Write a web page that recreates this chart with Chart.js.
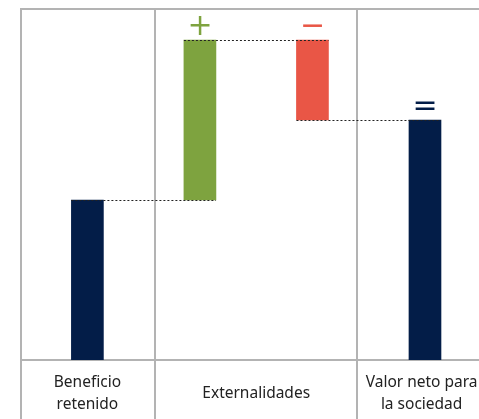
<!DOCTYPE html>
<html lang="es">
<head>
<meta charset="utf-8">
<title>Valor neto para la sociedad</title>
<script src="https://cdn.jsdelivr.net/npm/chart.js@4/dist/chart.umd.min.js"></script>
<style>
  html, body { margin: 0; padding: 0; background: #fff; overflow: hidden; }
  #wrap { width: 479px; height: 419px; }
</style>
</head>
<body>
<div id="wrap"><canvas id="cascada"></canvas></div>
<script>
// ===============================
// Datos
// ===============================
const categorias = ['Beneficio retenido', 'Externalidades positivas', 'Externalidades negativas', 'Valor neto para la sociedad'];
const variaciones = [100, 100, -50, 150];   // el último es el total
const simbolos = ['', '+', '\u2212', '='];
const colores = ['#031d48', '#7ea33f', '#e95646', '#031d48'];
const etiquetasEje = [['Beneficio', 'retenido'], 'Externalidades', ['Valor neto para', 'la sociedad']];
const posEtiquetas = [0, 1.5, 2.97];
const divisiones = [0.6, 2.4];

// ===============================
// Construir barras flotantes (cascada)
// ===============================
let acumulado = 0;
const tramos = variaciones.map(function (v, i) {
  if (i === variaciones.length - 1) {
    return [0, v];
  }
  const inicio = acumulado;
  acumulado += v;
  return [Math.min(inicio, acumulado), Math.max(inicio, acumulado)];
});
// nivel al que se une cada barra con la siguiente
const niveles = [];
acumulado = 0;
for (let i = 0; i < variaciones.length - 1; i++) {
  acumulado += variaciones[i];
  niveles.push(acumulado);
}

const COLOR_MARCO = '#b3b3b3';

// ===============================
// Plugin: marco de la tabla, conectores y símbolos
// ===============================
const marcoPlugin = {
  id: 'marco',
  beforeDatasetsDraw(chart) {
    const { ctx, chartArea, scales } = chart;
    const x = scales.x;
    const h = chart.height;
    ctx.save();
    ctx.strokeStyle = COLOR_MARCO;
    ctx.lineWidth = 2;
    ctx.beginPath();
    // línea superior
    ctx.moveTo(chartArea.left - 1, chartArea.top);
    ctx.lineTo(chart.width, chartArea.top);
    // línea base
    ctx.moveTo(chartArea.left, chartArea.bottom);
    ctx.lineTo(chart.width, chartArea.bottom);
    // borde izquierdo
    ctx.moveTo(chartArea.left, chartArea.top);
    ctx.lineTo(chartArea.left, h);
    // divisiones entre columnas
    divisiones.forEach(function (d) {
      const px = Math.round(x.getPixelForValue(d));
      ctx.moveTo(px, chartArea.top);
      ctx.lineTo(px, h);
    });
    ctx.stroke();
    ctx.restore();
  },
  afterDatasetsDraw(chart) {
    const { ctx, scales } = chart;
    const meta = chart.getDatasetMeta(0);
    const y = scales.y;
    ctx.save();

    // conectores punteados
    ctx.strokeStyle = '#222';
    ctx.lineWidth = 1;
    ctx.setLineDash([2, 2]);
    niveles.forEach(function (nivel, i) {
      const a = meta.data[i];
      const b = meta.data[i + 1];
      const py = Math.round(y.getPixelForValue(nivel)) + 0.5;
      ctx.beginPath();
      ctx.moveTo(a.x - a.width / 2, py);
      ctx.lineTo(b.x + b.width / 2, py);
      ctx.stroke();
    });
    ctx.setLineDash([]);

    // símbolos +, −, =
    ctx.font = '30px "DejaVu Sans"';
    ctx.textAlign = 'left';
    ctx.textBaseline = 'alphabetic';
    simbolos.forEach(function (s, i) {
      if (!s) return;
      const bar = meta.data[i];
      const m = ctx.measureText(s);
      const ancho = m.actualBoundingBoxLeft + m.actualBoundingBoxRight;
      const alto = m.actualBoundingBoxAscent + m.actualBoundingBoxDescent;
      const cx = bar.x;
      const cy = Math.min(bar.y, bar.base) - 15;
      ctx.fillStyle = colores[i];
      ctx.fillText(s, cx - ancho / 2 + m.actualBoundingBoxLeft, cy - alto / 2 + m.actualBoundingBoxAscent);
    });
    ctx.restore();
  }
};

// ===============================
// Gráfico
// ===============================
document.addEventListener('DOMContentLoaded', function () {
  const ctx = document.getElementById('cascada').getContext('2d');
  new Chart(ctx, {
    type: 'bar',
    data: {
      datasets: [{
        label: 'Valor',
        data: tramos.map(function (t, i) { return { x: i, y: t }; }),
        backgroundColor: colores,
        borderWidth: 0,
        barThickness: 32
      }]
    },
    options: {
      responsive: true,
      maintainAspectRatio: false,
      animation: false,
      layout: { padding: { left: 21, top: 9, right: 0, bottom: 0 } },
      plugins: {
        legend: { display: false },
        tooltip: { enabled: false }
      },
      scales: {
        x: {
          type: 'linear',
          offset: false,
          min: -0.59,
          max: 3.48,
          grid: { display: false, offset: false },
          border: { display: false },
          afterBuildTicks: function (scale) {
            scale.ticks = posEtiquetas.map(function (v) { return { value: v }; });
          },
          afterFit: function (scale) {
            // la etiqueta de la derecha se corta, como en el original
            scale.height = 59;
            scale.paddingLeft = 0;
            scale.paddingRight = 0;
          },
          ticks: {
            autoSkip: false,
            maxRotation: 0,
            minRotation: 0,
            padding: 15,
            crossAlign: 'center',
            color: '#222',
            font: { family: '"Noto Sans", sans-serif', size: 15.5, lineHeight: '22px' },
            callback: function (value, index) { return etiquetasEje[index]; }
          }
        },
        y: {
          display: false,
          min: 0,
          max: 219.4
        }
      }
    },
    plugins: [marcoPlugin]
  });
});
</script>
</body>
</html>
